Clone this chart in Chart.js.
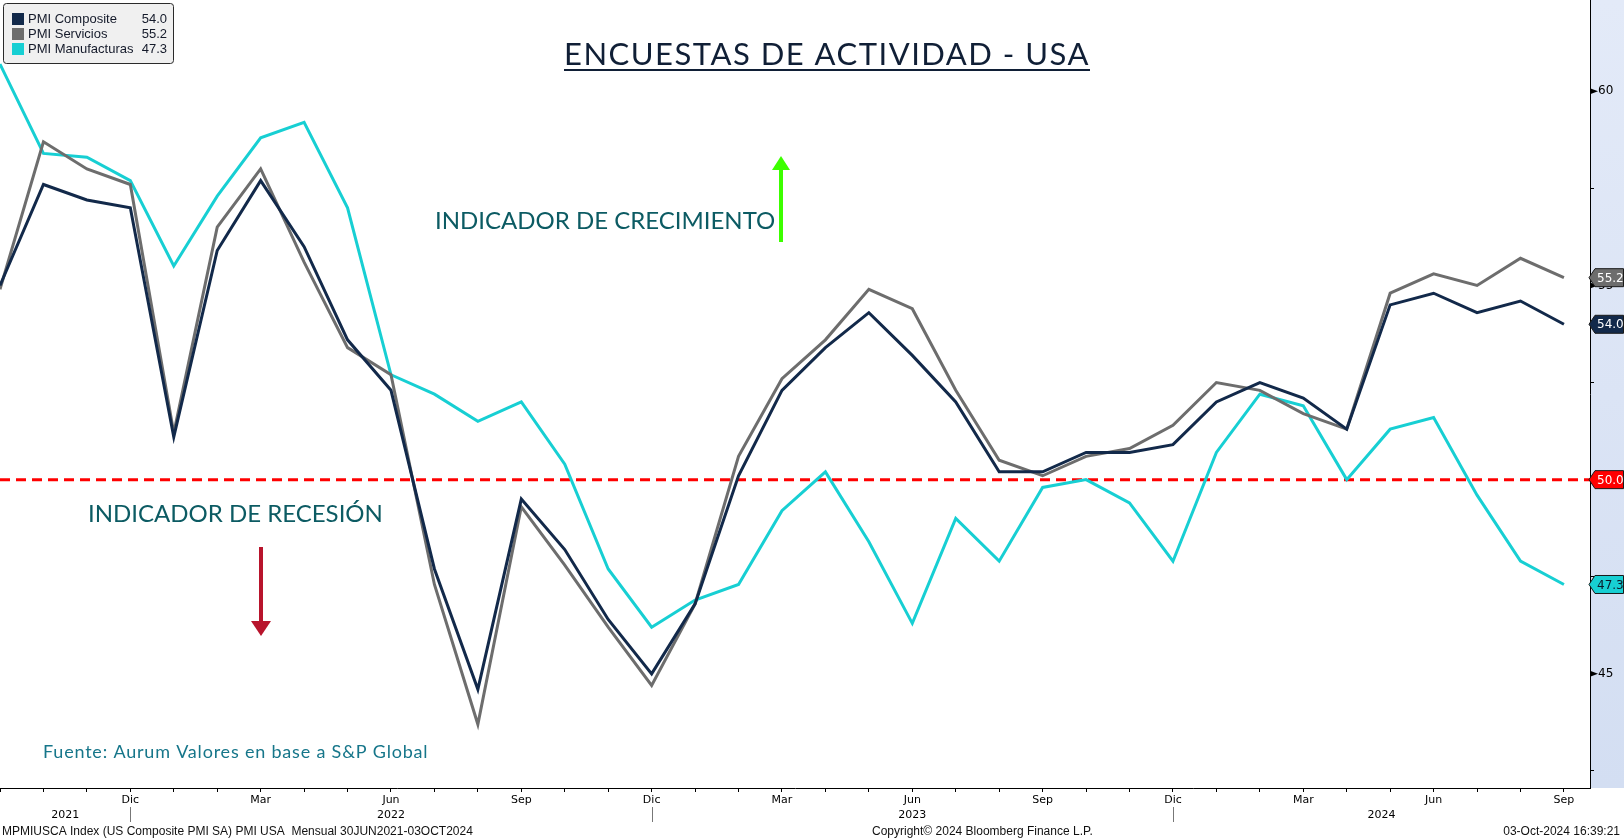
<!DOCTYPE html>
<html>
<head>
<meta charset="utf-8">
<script src="https://cdn.jsdelivr.net/npm/chart.js@4.4.1/dist/chart.umd.min.js"></script>
<style>
body { margin: 0; background: #fff; }
canvas { display: block; }
</style>
</head>
<body>
<canvas id="myChart" width="1624" height="840"></canvas>
<script>
// meses desde Sep 2021 hasta Sep 2024
var meses = ["Sep","Oct","Nov","Dic","Ene","Feb","Mar","Abr","May","Jun","Jul","Ago",
	"Sep","Oct","Nov","Dic","Ene","Feb","Mar","Abr","May","Jun","Jul","Ago",
	"Sep","Oct","Nov","Dic","Ene","Feb","Mar","Abr","May","Jun","Jul","Ago","Sep"];
var anios = ["2021", "2022", "2023", "2024"];

var composite = [55.0,57.6,57.2,57.0,51.1,55.9,57.7,56.0,53.6,52.3,47.7,44.6,
	49.5,48.2,46.4,45.0,46.8,50.1,52.3,53.4,54.3,53.2,52.0,50.2,
	50.2,50.7,50.7,50.9,52.0,52.5,52.1,51.3,54.5,54.8,54.3,54.6,54.0];
var servicios = [54.9,58.7,58.0,57.6,51.2,56.5,58.0,55.6,53.4,52.7,47.3,43.7,
	49.3,47.8,46.2,44.7,46.8,50.6,52.6,53.6,54.9,54.4,52.3,50.5,
	50.1,50.6,50.8,51.4,52.5,52.3,51.7,51.3,54.8,55.3,55.0,55.7,55.2];
var manufacturas = [60.7,58.4,58.3,57.7,55.5,57.3,58.8,59.2,57.0,52.7,52.2,51.5,
	52.0,50.4,47.7,46.2,46.9,47.3,49.2,50.2,48.4,46.3,49.0,47.9,
	49.8,50.0,49.4,47.9,50.7,52.2,51.9,50.0,51.3,51.6,49.6,47.9,47.3];
var umbral = 50;

var yMin = 42.06, yMax = 62.35, xMax = 36.6;

function puntos(arr) {
	return arr.map(function (v, i) { return { x: i, y: v }; });
}

var fontBbg = '"DejaVu Sans", sans-serif';

// fondo azul del eje derecho
var fondoPanel = {
	id: 'fondoPanel',
	beforeDraw: function (chart) {
		var c = chart.ctx, a = chart.chartArea;
		var g = c.createLinearGradient(0, a.top, 0, a.bottom);
		g.addColorStop(0, '#e3eaf8');
		g.addColorStop(1, '#d3def2');
		c.fillStyle = g;
		c.fillRect(a.right, a.top, chart.width - a.right, a.bottom - a.top);
	}
};

// linea roja de 50
var lineaUmbral = {
	id: 'lineaUmbral',
	beforeDatasetsDraw: function (chart) {
		var c = chart.ctx, a = chart.chartArea;
		var y = chart.scales.y.getPixelForValue(umbral);
		c.save();
		c.strokeStyle = '#ff0000';
		c.lineWidth = 3;
		c.setLineDash([10, 6]);
		c.beginPath();
		c.moveTo(a.left, y);
		c.lineTo(a.right, y);
		c.stroke();
		c.restore();
	}
};

function etiqueta(c, x0, y, texto, relleno, colorTexto) {
	var h = 18;
	c.beginPath();
	c.moveTo(x0, y);
	c.lineTo(x0 + 6, y - h / 2);
	c.lineTo(1623.5, y - h / 2);
	c.lineTo(1623.5, y + h / 2);
	c.lineTo(x0 + 6, y + h / 2);
	c.closePath();
	c.fillStyle = relleno;
	c.fill();
	c.strokeStyle = '#1a1a1a';
	c.lineWidth = 1;
	c.stroke();
	c.fillStyle = colorTexto;
	c.font = '12px ' + fontBbg;
	c.textAlign = 'left';
	c.textBaseline = 'middle';
	c.fillText(texto, x0 + 8, y + 1);
}

var extras = {
	id: 'extras',
	afterDraw: function (chart) {
		var c = chart.ctx, a = chart.chartArea;
		var sx = chart.scales.x, sy = chart.scales.y;
		c.save();

		// flechitas de los ticks mayores
		c.fillStyle = '#000';
		[45, 50, 55, 60].forEach(function (v) {
			var y = sy.getPixelForValue(v);
			c.beginPath();
			c.moveTo(a.right, y - 3);
			c.lineTo(a.right + 8, y);
			c.lineTo(a.right, y + 3);
			c.closePath();
			c.fill();
		});

		// etiquetas de ultimo valor
		var ds = chart.data.datasets;
		etiqueta(c, a.right - 1, sy.getPixelForValue(servicios[servicios.length - 1]), servicios[servicios.length - 1].toFixed(1), ds[1].borderColor, '#fff');
		etiqueta(c, a.right - 1, sy.getPixelForValue(composite[composite.length - 1]), composite[composite.length - 1].toFixed(1), ds[0].borderColor, '#fff');
		etiqueta(c, a.right - 1, sy.getPixelForValue(umbral), umbral.toFixed(1), '#ff0000', '#fff');
		etiqueta(c, a.right - 1, sy.getPixelForValue(manufacturas[manufacturas.length - 1]), manufacturas[manufacturas.length - 1].toFixed(1), ds[2].borderColor, '#0b1b2b');

		// años y separadores
		var cortes = [];
		meses.forEach(function (m, i) { if (m === 'Dic') cortes.push(sx.getPixelForValue(i)); });
		var bordes = [a.left].concat(cortes).concat([a.right]);
		c.fillStyle = '#000';
		c.font = '11px ' + fontBbg;
		c.textAlign = 'center';
		c.textBaseline = 'middle';
		anios.forEach(function (t, i) {
			c.fillText(t, (bordes[i] + bordes[i + 1]) / 2, 815);
		});
		c.strokeStyle = '#777';
		c.lineWidth = 1;
		cortes.forEach(function (x) {
			c.beginPath();
			c.moveTo(Math.round(x) + 0.5, 807);
			c.lineTo(Math.round(x) + 0.5, 822);
			c.stroke();
		});

		// pie de Bloomberg
		c.fillStyle = '#111';
		c.font = '12px "Liberation Sans", sans-serif';
		c.textAlign = 'left';
		c.fillText('MPMIUSCA Index (US Composite PMI SA) PMI USA  Mensual 30JUN2021-03OCT2024', 2, 832);
		c.fillText('Copyright\u00a9 2024 Bloomberg Finance L.P.', 872, 832);
		c.textAlign = 'right';
		c.fillText('03-Oct-2024 16:39:21', 1620, 832);

		// leyenda
		c.fillStyle = '#f0f0f0';
		c.strokeStyle = '#2b2b2b';
		c.beginPath();
		c.roundRect(3.5, 3.5, 170, 60, 3);
		c.fill();
		c.stroke();
		c.font = '13px "Liberation Sans", sans-serif';
		c.textBaseline = 'middle';
		ds.forEach(function (d, i) {
			var y = 19 + i * 15;
			c.fillStyle = d.borderColor;
			c.fillRect(12, y - 6, 12, 12);
			c.fillStyle = '#141a2a';
			c.textAlign = 'left';
			c.fillText(d.label, 28, y);
			c.textAlign = 'right';
			c.fillText(d.data[d.data.length - 1].y.toFixed(1), 167, y);
		});

		// titulo
		c.fillStyle = '#101f36';
		c.font = '31px Lato, sans-serif';
		c.letterSpacing = '1.5px';
		c.textAlign = 'left';
		c.textBaseline = 'alphabetic';
		var titulo = 'ENCUESTAS DE ACTIVIDAD - USA';
		var w = c.measureText(titulo).width;
		c.fillText(titulo, 827 - w / 2, 65);
		c.fillRect(827 - w / 2, 69, w, 2);

		// anotaciones
		c.letterSpacing = '0px';
		c.fillStyle = '#0c5b63';
		c.font = '24px Lato, sans-serif';
		c.fillText('INDICADOR DE CRECIMIENTO', 435, 229);
		c.fillText('INDICADOR DE RECESIÓN', 88, 522);

		c.fillStyle = '#16768a';
		c.font = '18px Lato, sans-serif';
		c.letterSpacing = '0.8px';
		c.fillText('Fuente: Aurum Valores en base a S&P Global', 43, 758);
		c.letterSpacing = '0px';

		// flecha verde
		c.strokeStyle = '#3cff00';
		c.fillStyle = '#3cff00';
		c.lineWidth = 4;
		c.beginPath();
		c.moveTo(781, 242);
		c.lineTo(781, 166);
		c.stroke();
		c.beginPath();
		c.moveTo(781, 156);
		c.lineTo(790, 170);
		c.lineTo(772, 170);
		c.closePath();
		c.fill();

		// flecha roja
		c.strokeStyle = '#b8142c';
		c.fillStyle = '#b8142c';
		c.beginPath();
		c.moveTo(261, 547);
		c.lineTo(261, 626);
		c.stroke();
		c.beginPath();
		c.moveTo(261, 636);
		c.lineTo(271, 621);
		c.lineTo(251, 621);
		c.closePath();
		c.fill();

		c.restore();
	}
};

var ctx = document.getElementById("myChart");
var myChart = new Chart(ctx, {
	type: 'line',
	data: {
		datasets: [
			{
				label: "PMI Composite",
				data: puntos(composite),
				borderColor: "#12294a",
				borderWidth: 3,
				pointRadius: 0,
				tension: 0
			},
			{
				label: "PMI Servicios",
				data: puntos(servicios),
				borderColor: "#6d6d6d",
				borderWidth: 3,
				pointRadius: 0,
				tension: 0
			},
			{
				label: "PMI Manufacturas",
				data: puntos(manufacturas),
				borderColor: "#17cfd3",
				borderWidth: 3,
				pointRadius: 0,
				tension: 0
			}
		]
	},
	options: {
		responsive: false,
		maintainAspectRatio: false,
		animation: false,
		devicePixelRatio: 1,
		layout: { padding: 0 },
		plugins: {
			legend: { display: false },
			tooltip: { enabled: false }
		},
		scales: {
			x: {
				type: 'linear',
				min: 0,
				max: xMax,
				afterFit: function (s) {
					s.height = 52;
					s.paddingLeft = 0;
					s.paddingRight = 0;
				},
				border: { display: true, color: '#000', width: 1 },
				grid: { drawOnChartArea: false, tickLength: 4, color: '#000' },
				ticks: {
					stepSize: 1,
					autoSkip: false,
					includeBounds: false,
					maxRotation: 0,
					padding: 2,
					color: '#000',
					font: { family: 'DejaVu Sans', size: 11 },
					callback: function (v) {
						return (v > 0 && v % 3 === 0) ? meses[v] : '';
					}
				}
			},
			y: {
				type: 'linear',
				position: 'right',
				min: yMin,
				max: yMax,
				afterFit: function (s) {
					s.width = 34;
					s.paddingTop = 0;
					s.paddingBottom = 0;
				},
				border: { display: true, color: '#000', width: 1 },
				grid: { drawOnChartArea: false, tickLength: 4, color: '#000' },
				ticks: {
					stepSize: 2.5,
					includeBounds: false,
					padding: 4,
					color: '#000',
					font: { family: 'DejaVu Sans', size: 12 },
					callback: function (v) {
						return v % 5 === 0 ? String(v) : '';
					}
				}
			}
		}
	},
	plugins: [fondoPanel, lineaUmbral, extras]
});
</script>
</body>
</html>
